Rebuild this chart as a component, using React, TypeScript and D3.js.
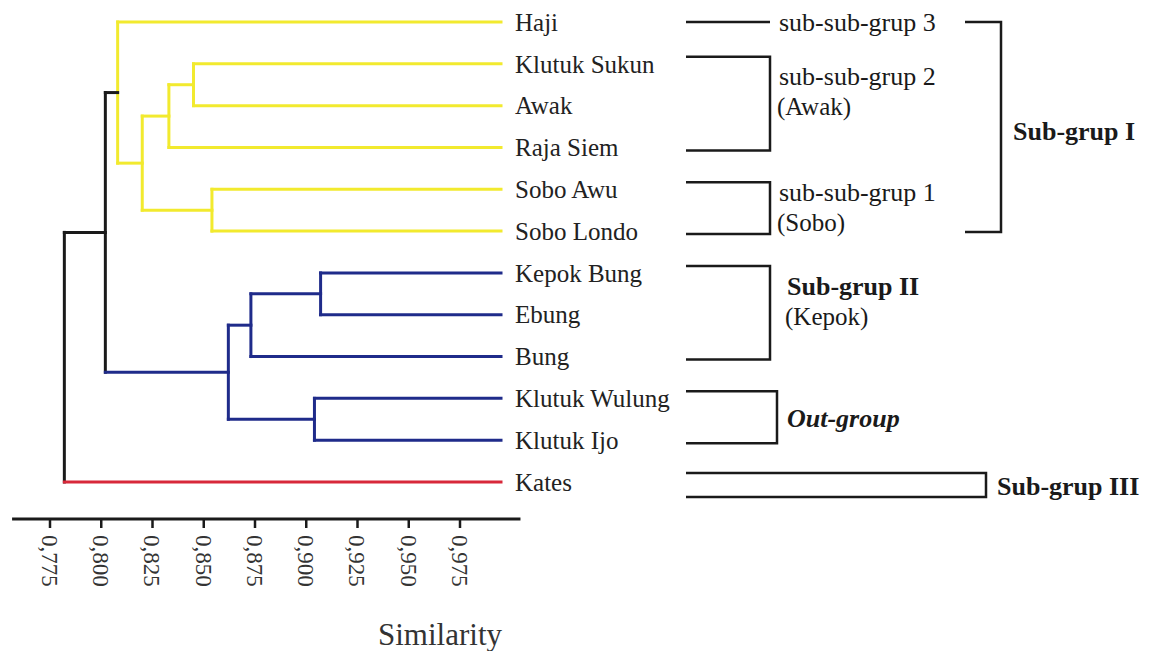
import React from 'react';
import * as d3 from 'd3';

// leaves, top to bottom
const leaves = [
  'Haji', 'Klutuk Sukun', 'Awak', 'Raja Siem', 'Sobo Awu', 'Sobo Londo',
  'Kepok Bung', 'Ebung', 'Bung', 'Klutuk Wulung', 'Klutuk Ijo', 'Kates',
];

// joins
const merges = [
  { id: 'A', left: 'Klutuk Sukun', right: 'Awak', sim: 0.845 },
  { id: 'B', left: 'A', right: 'Raja Siem', sim: 0.833 },
  { id: 'C', left: 'Sobo Awu', right: 'Sobo Londo', sim: 0.854 },
  { id: 'D', left: 'B', right: 'C', sim: 0.820 },
  { id: 'E', left: 'Haji', right: 'D', sim: 0.808 },
  { id: 'F', left: 'Kepok Bung', right: 'Ebung', sim: 0.907 },
  { id: 'G', left: 'F', right: 'Bung', sim: 0.873 },
  { id: 'H', left: 'Klutuk Wulung', right: 'Klutuk Ijo', sim: 0.904 },
  { id: 'J', left: 'G', right: 'H', sim: 0.862 },
  { id: 'K', left: 'E', right: 'J', sim: 0.802 },
  { id: 'root', left: 'K', right: 'Kates', sim: 0.782 },
];
const leafSim = 0.995;

const tickValues = [0.775, 0.8, 0.825, 0.85, 0.875, 0.9, 0.925, 0.95, 0.975];
const axisExtent = [0.7565, 1.0045];

const groups = [
  { name: 'sub-sub-grup 3', note: '', from: 'Haji', to: 'Haji' },
  { name: 'sub-sub-grup 2', note: '(Awak)', from: 'Klutuk Sukun', to: 'Raja Siem' },
  { name: 'sub-sub-grup 1', note: '(Sobo)', from: 'Sobo Awu', to: 'Sobo Londo' },
  { name: 'Sub-grup II', note: '(Kepok)', from: 'Kepok Bung', to: 'Bung' },
  { name: 'Out-group', note: '', from: 'Klutuk Wulung', to: 'Klutuk Ijo' },
  { name: 'Sub-grup III', note: '', from: 'Kates', to: 'Kates' },
];
const superGroup = { name: 'Sub-grup I', from: 'Haji', to: 'Sobo Londo' };

const clusterColor: Record<string, string> = { E: '#f2ea2e', J: '#1f2b8a', Kates: '#d8283a' };
const FONT = "'Liberation Serif', 'Times New Roman', 'DejaVu Serif', serif";

export default function App() {
  const width = 1153, height = 651;
  const x = d3.scaleLinear().domain([0.775, 0.975]).range([50, 460]);
  const y = d3.scalePoint<string>().domain(leaves).range([22, 482]);

  const byId = new Map<string, any>();
  leaves.forEach((n) => byId.set(n, { name: n, sim: leafSim }));
  merges.forEach((m) => byId.set(m.id, { name: m.id, sim: m.sim, children: [byId.get(m.left), byId.get(m.right)] }));
  const root: any = d3.hierarchy(byId.get('root'));
  root.eachAfter((n: any) => {
    n.py = n.children ? (n.children[0].py + n.children[1].py) / 2 : (y(n.data.name) as number);
    n.px = x(n.data.sim);
  });
  root.eachBefore((n: any) => {
    n.color = clusterColor[n.data.name] || (n.parent ? n.parent.color : '#1a1a1a');
  });

  const lines: any[] = [];
  root.each((n: any) => {
    if (n.children) {
      lines.push({ x1: n.px, x2: n.px, y1: n.children[0].py, y2: n.children[1].py, c: n.color });
    }
    if (n.parent) {
      // the yellow cluster's stem stays black
      const c = n.data.name === 'E' ? n.parent.color : n.color;
      lines.push({ x1: n.parent.px, x2: n.px, y1: n.py, y2: n.py, c });
    }
  });

  const gy = (name: string) => y(name) as number;
  const axisY = 519;

  return (
    <svg width={width} height={height} style={{ position: 'absolute', left: 0, top: 0, background: '#fff', fontFamily: FONT }}>
      {lines.map((l, i) => (
        <line key={i} x1={l.x1} x2={l.x2} y1={l.y1} y2={l.y2} stroke={l.c} strokeWidth={3} strokeLinecap="square" />
      ))}
      {root.leaves().map((n: any) => (
        <text key={n.data.name} x={n.px + 14} y={n.py} dy="0.35em" fontSize={25} fill="#222">{n.data.name}</text>
      ))}

      {/* axis */}
      <line x1={x(axisExtent[0])} x2={x(axisExtent[1])} y1={axisY} y2={axisY} stroke="#1a1a1a" strokeWidth={3} />
      {tickValues.map((t) => (
        <g key={t} transform={`translate(${x(t)},${axisY})`}>
          <line y1={0} y2={9} stroke="#1a1a1a" strokeWidth={2.5} />
          <text transform="translate(0,16) rotate(90)" dy="0.35em" fontSize={23} fill="#333">
            {d3.format('.3f')(t).replace('.', ',')}
          </text>
        </g>
      ))}
      <text x={502} y={645} textAnchor="end" fontSize={31} fill="#333">Similarity</text>

      {/* group brackets */}
      {groups.map((g, i) => {
        const single = g.from === g.to && g.name !== 'Sub-grup III';
        const box = g.name === 'Sub-grup III';
        const x0 = 686;
        const vx = box ? 986 : g.name === 'Out-group' ? 777 : 770;
        const top = single ? gy(g.from) : box ? gy(g.from) - 9 : gy(g.from) - 7;
        const bottom = box ? gy(g.to) + 15 : gy(g.to) + 3;
        const bold = g.name.startsWith('Sub') || g.name === 'Out-group';
        const lx = box ? 997 : bold ? 787 : 779;
        let ly = single ? top + 9 : (top + bottom) / 2 + 10;
        if (g.name === 'sub-sub-grup 1') ly = top + 19;
        if (g.name === 'sub-sub-grup 2') ly = top + 28;
        if (g.name === 'Sub-grup II') ly = top + 29;
        return (
          <g key={i} stroke="#1a1a1a" strokeWidth={2.5} fill="none">
            {single ? (
              <line x1={x0} x2={vx} y1={top} y2={top} />
            ) : (
              <polyline points={`${x0},${top} ${vx},${top} ${vx},${bottom} ${x0},${bottom}`} />
            )}
            <text x={lx} y={ly} stroke="none" fill="#1a1a1a" fontSize={26}
              fontWeight={bold ? 'bold' : 'normal'} fontStyle={g.name === 'Out-group' ? 'italic' : 'normal'}>
              {g.name}
            </text>
            {g.note && (
              <text x={lx - 2} y={ly + 30} stroke="none" fill="#1a1a1a" fontSize={25}>{g.note}</text>
            )}
          </g>
        );
      })}
      <g stroke="#1a1a1a" strokeWidth={2.5} fill="none">
        <polyline points={`965,${gy(superGroup.from)} 1001,${gy(superGroup.from)} 1001,${gy(superGroup.to) + 1} 965,${gy(superGroup.to) + 1}`} />
        <text x={1013} y={140} stroke="none" fill="#1a1a1a" fontSize={26} fontWeight="bold">{superGroup.name}</text>
      </g>
    </svg>
  );
}
